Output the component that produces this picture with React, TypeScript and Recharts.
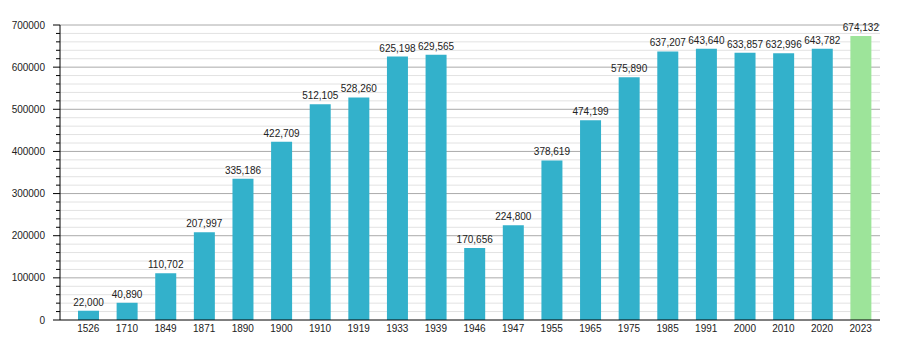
import { BarChart, Bar, XAxis, YAxis, CartesianGrid, Cell, LabelList } from "recharts";

const years = ["1526", "1710", "1849", "1871", "1890", "1900", "1910", "1919", "1933", "1939", "1946", "1947", "1955", "1965", "1975", "1985", "1991", "2000", "2010", "2020", "2023"];
const population = [22000, 40890, 110702, 207997, 335186, 422709, 512105, 528260, 625198, 629565, 170656, 224800, 378619, 474199, 575890, 637207, 643640, 633857, 632996, 643782, 674132];
const yTicks = [0, 20000, 40000, 60000, 80000, 100000, 120000, 140000, 160000, 180000, 200000, 220000, 240000, 260000, 280000, 300000, 320000, 340000, 360000, 380000, 400000, 420000, 440000, 460000, 480000, 500000, 520000, 540000, 560000, 580000, 600000, 620000, 640000, 660000, 680000, 700000];
const yMax = 700000;
const majorStep = 100000;

const data = years.map((year, i) => ({ year, population: population[i] }));

const FONT = "'Liberation Sans', Arial, sans-serif";
const BAR = "#33b1cb";
const LAST = "#9de49a";

function YTick(props: any) {
  const { x, y, payload } = props;
  const major = payload.value % majorStep === 0;
  return (
    <g>
      <line x1={x - (major ? 7 : 4)} x2={x} y1={y} y2={y} stroke="#000" />
      {major && (
        <text x={x - 15} y={y} dy="0.35em" textAnchor="end" fontSize={10} fill="#222" fontFamily={FONT}>
          {payload.value}
        </text>
      )}
    </g>
  );
}

// grid line: darker on every 100000, light on the 20000 steps
function GridLine(props: any) {
  const { x1, x2, y1, y2, y, height } = props;
  const value = Math.round(((y + height - y1) / height) * yMax);
  if (value <= 0) return <g key={props.key} />;
  const major = Math.round(value / 20000) % 5 === 0;
  return <line key={props.key} x1={x1} x2={x2} y1={y1} y2={y2} stroke={major ? "#aaaaaa" : "#e2e2e2"} />;
}

export default function App() {
  return (
    <div style={{ position: "absolute", left: 0, top: 0, width: 900, height: 350, background: "#fff", fontFamily: FONT }}>
      <BarChart width={900} height={350} data={data} margin={{ top: 25, right: 20, bottom: 0, left: 0 }}>
        <CartesianGrid vertical={false} horizontal={GridLine} />
        <XAxis
          dataKey="year"
          height={30}
          tickLine={false}
          tickSize={0}
          tickMargin={5}
          axisLine={{ stroke: "#000" }}
          padding={{ left: 9, right: 0 }}
          tick={{ fontSize: 10, fill: "#222", fontFamily: FONT }}
          interval={0}
        />
        <YAxis
          width={60}
          domain={[0, yMax]}
          ticks={yTicks}
          interval={0}
          tickLine={false}
          tickSize={0}
          tickMargin={0}
          axisLine={{ stroke: "#000" }}
          tick={<YTick />}
        />
        <Bar dataKey="population" barSize={21} isAnimationActive={false}>
          {data.map((d, i) => (
            <Cell key={d.year} fill={i === data.length - 1 ? LAST : BAR} />
          ))}
          <LabelList
            dataKey="population"
            position="top"
            offset={5}
            fontSize={10}
            fill="#222"
            fontFamily={FONT}
            formatter={(v: any) => Number(v).toLocaleString("en-US")}
          />
        </Bar>
      </BarChart>
    </div>
  );
}
